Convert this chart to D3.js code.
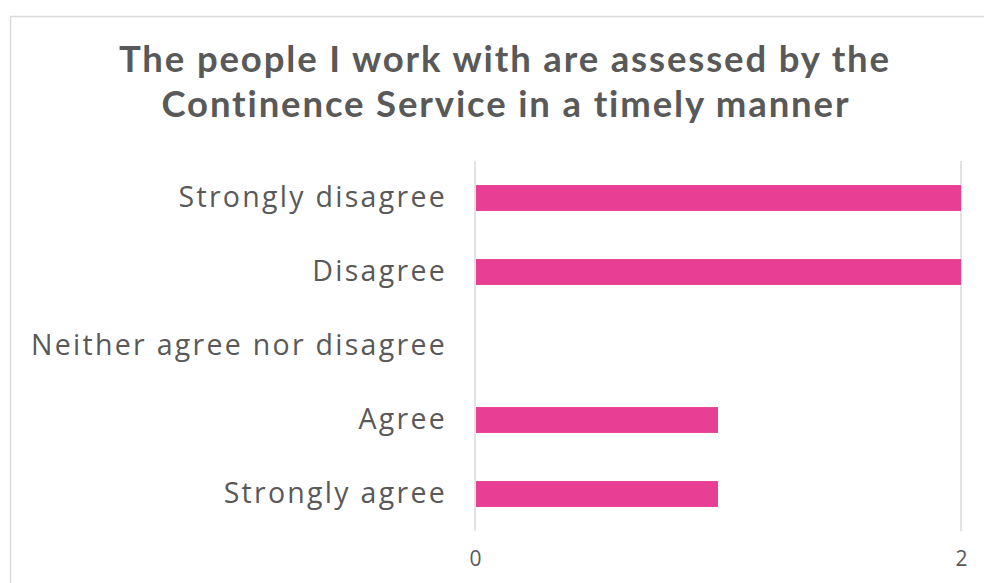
<!DOCTYPE html>
<html>
<head>
<meta charset="utf-8">
<script src="https://cdn.jsdelivr.net/npm/d3@7/dist/d3.min.js"></script>
<style>
  html, body { margin: 0; padding: 0; background: #fff; }
  svg { display: block; }
</style>
</head>
<body>
<svg id="chart" width="984" height="583"></svg>
<script>
// Survey responses
const categories = ["Strongly disagree", "Disagree", "Neither agree nor disagree", "Agree", "Strongly agree"];
const counts = [2, 2, 0, 1, 1];
const tickValues = [0, 2];
const titleLines = ["The people I work with are assessed by the", "Continence Service in a timely manner"];

const svg = d3.select("#chart");
const W = 984, H = 583;
const textColor = "#595959";
const barColor = "#E83E94";
const gridColor = "#D9D9D9";

// Chart area frame
svg.append("rect")
  .attr("x", 10.5).attr("y", 16.5)
  .attr("width", W + 20).attr("height", H + 20)
  .attr("fill", "#fff").attr("stroke", gridColor).attr("stroke-width", 1.5);

const plot = { left: 475, right: 961, top: 161, bottom: 531 };

const x = d3.scaleLinear().domain([0, 2]).range([plot.left, plot.right]);
const y = d3.scaleBand().domain(categories).range([plot.top, plot.bottom])
  .paddingInner(0.65).paddingOuter(0.325);

// Letter spacing that makes a text element span a given width
function spreadTo(sel, target) {
  const w = sel.node().getComputedTextLength();
  return (target - w) / sel.text().length;
}

// Title
const titleFont = 36.5;
const t1 = svg.append("text")
  .attr("y", 72)
  .attr("text-anchor", "middle")
  .attr("font-family", "Lato, sans-serif")
  .attr("font-weight", "bold").attr("font-size", titleFont)
  .attr("fill", textColor).text(titleLines[0]);
const ls = Math.max(0, spreadTo(t1, 772));
t1.attr("letter-spacing", ls).attr("x", 504 + ls / 2);
svg.append("text")
  .attr("x", 505 + ls / 2).attr("y", 117)
  .attr("text-anchor", "middle")
  .attr("font-family", "Lato, sans-serif")
  .attr("font-weight", "bold").attr("font-size", titleFont)
  .attr("letter-spacing", ls)
  .attr("fill", textColor).text(titleLines[1]);

// Vertical gridlines
svg.append("g").selectAll("line")
  .data(tickValues).join("line")
  .attr("x1", d => x(d)).attr("x2", d => x(d))
  .attr("y1", plot.top).attr("y2", plot.bottom)
  .attr("stroke", gridColor).attr("stroke-width", 1.5);

// Bars
svg.append("g").selectAll("rect")
  .data(categories.map((c, i) => ({ c, v: counts[i] })))
  .join("rect")
  .attr("x", x(0) + 1)
  .attr("y", d => y(d.c))
  .attr("width", d => Math.max(0, x(d.v) - x(0) - 1))
  .attr("height", y.bandwidth())
  .attr("fill", barColor);

// Category axis
const yAxis = svg.append("g")
  .attr("transform", `translate(${plot.left},0)`)
  .call(d3.axisLeft(y).tickSize(0).tickPadding(28));
yAxis.select(".domain").remove();
yAxis.selectAll("text")
  .attr("font-family", "'Open Sans', sans-serif")
  .attr("font-size", 28.5)
  .attr("fill", textColor);
// letter spacing so the longest label spans its measured width
const longest = yAxis.selectAll("text").filter(d => d === categories[2]);
const lsy = Math.max(0, spreadTo(longest, 416));
yAxis.selectAll("text").attr("letter-spacing", lsy);

// Value axis
const xAxis = svg.append("g")
  .attr("transform", `translate(0,${plot.bottom})`)
  .call(d3.axisBottom(x).tickValues(tickValues).tickFormat(d3.format("d")).tickSize(0).tickPadding(20));
xAxis.select(".domain").remove();
xAxis.selectAll("text")
  .attr("font-family", "'Open Sans', sans-serif")
  .attr("font-size", 21)
  .attr("fill", textColor);
</script>
</body>
</html>
